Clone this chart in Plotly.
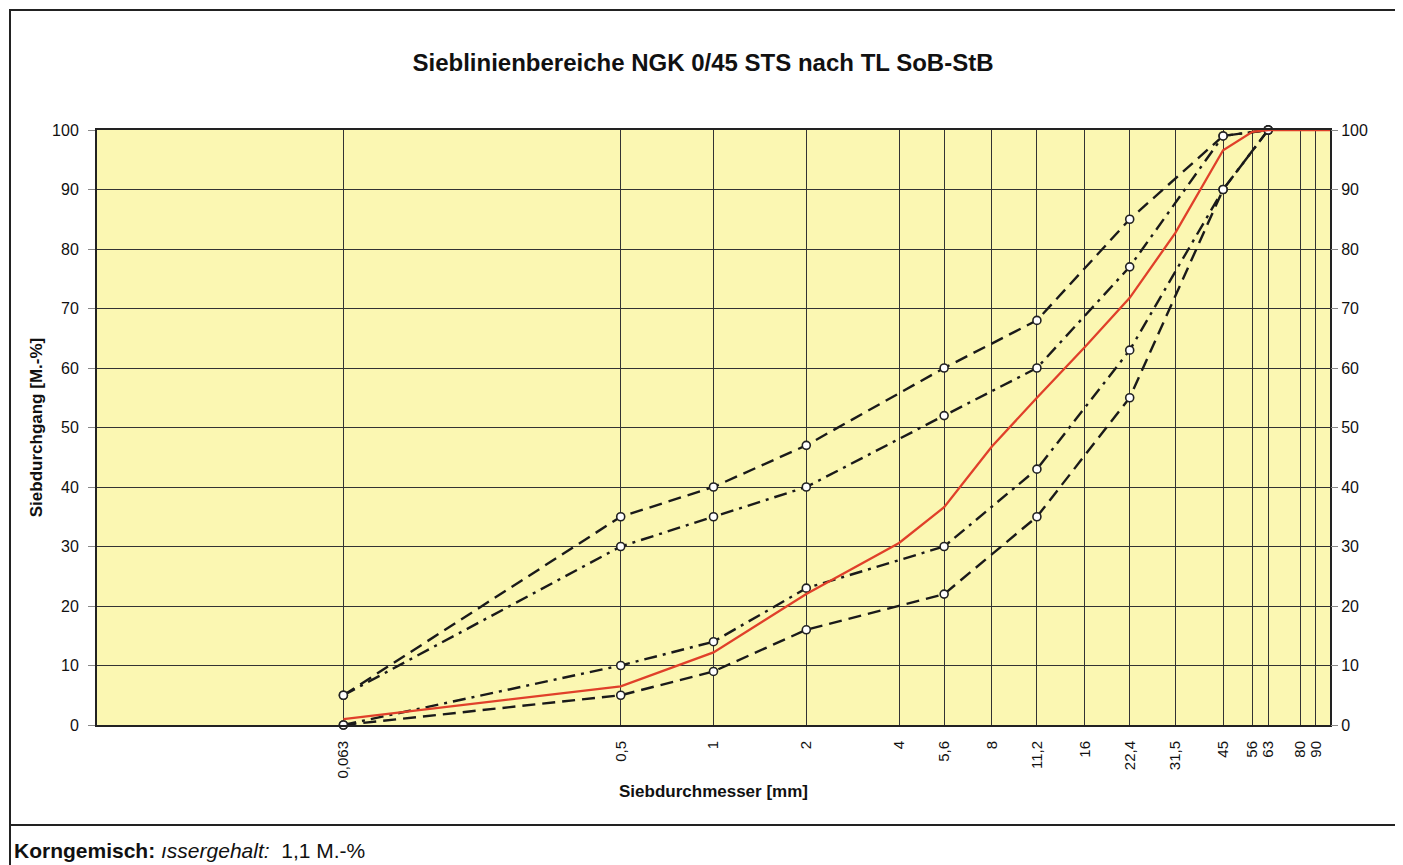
import plotly.graph_objects as go

# --- data ---
sieves = [0.063, 0.5, 1, 2, 5.6, 11.2, 22.4, 45, 63]
upper_outer = [5, 35, 40, 47, 60, 68, 85, 99, 100]
upper_inner = [5, 30, 35, 40, 52, 60, 77, 99, 100]
lower_inner = [0, 10, 14, 23, 30, 43, 63, 90, 100]
lower_outer = [0, 5, 9, 16, 22, 35, 55, 90, 100]

red_x = [0.063, 0.5, 1, 2, 4, 5.6, 8, 11.2, 16, 22.4, 31.5, 45, 56, 63, 100]
red_y = [1.0, 6.5, 12.2, 22, 30.6, 36.6, 46.8, 55, 63.5, 71.8, 82.7, 96.6, 99.7, 100, 100]

tick_vals = [0.063, 0.5, 1, 2, 4, 5.6, 8, 11.2, 16, 22.4, 31.5, 45, 56, 63, 80, 90]
tick_text = ["0,063", "0,5", "1", "2", "4", "5,6", "8", "11,2", "16", "22,4", "31,5", "45", "56", "63", "80", "90"]
y_ticks = list(range(0, 101, 10))

FONT = "Liberation Sans, Arial, sans-serif"
O = 8  # page body margin
W, H = 1403 - O, 865 - O
L, R, T, B = 97 - O, 1330 - O, 130 - O, 725 - O


def px(x):
    return (x - O - L) / (R - L)


def py(y):
    return (B - (y - O)) / (B - T)


fig = go.Figure()

marker = dict(symbol="circle", size=8, color="white", line=dict(color="#222", width=1.6))
dash_long = "13px,7px"
dash_dot = "13px,6px,3px,6px"

fig.add_trace(go.Scatter(x=sieves, y=upper_outer, mode="lines+markers",
                         line=dict(color="#1a1a1a", width=2.4, dash=dash_long),
                         marker=marker, cliponaxis=False, showlegend=False))
fig.add_trace(go.Scatter(x=sieves, y=lower_outer, mode="lines+markers",
                         line=dict(color="#1a1a1a", width=2.4, dash=dash_long),
                         marker=marker, cliponaxis=False, showlegend=False))
fig.add_trace(go.Scatter(x=sieves, y=upper_inner, mode="lines+markers",
                         line=dict(color="#1a1a1a", width=2.4, dash=dash_dot),
                         marker=marker, cliponaxis=False, showlegend=False))
fig.add_trace(go.Scatter(x=sieves, y=lower_inner, mode="lines+markers",
                         line=dict(color="#1a1a1a", width=2.4, dash=dash_dot),
                         marker=marker, cliponaxis=False, showlegend=False))
fig.add_trace(go.Scatter(x=red_x, y=red_y, mode="lines",
                         line=dict(color="#E0402A", width=2.3),
                         cliponaxis=False, showlegend=False))
# invisible trace for right axis
fig.add_trace(go.Scatter(x=[1], y=[0], yaxis="y2", mode="markers",
                         marker=dict(opacity=0), showlegend=False, hoverinfo="skip"))

fig.update_layout(
    width=W, height=H,
    paper_bgcolor="white",
    plot_bgcolor="#FBF7B2",
    margin=dict(l=L, r=W - R, t=T, b=H - B, pad=0),
    font=dict(family=FONT, size=15, color="#111"),
    title=dict(text="<b>Sieblinienbereiche NGK 0/45 STS nach TL SoB-StB</b>",
               x=(703 - O) / W, xanchor="center", y=1 - (63 - O) / H, yanchor="middle",
               font=dict(size=24, family=FONT, color="#111")),
    xaxis=dict(type="log", range=[-2, 2], tickvals=tick_vals, ticktext=tick_text,
               tickangle=-90, showgrid=True, gridcolor="#333", gridwidth=1,
               ticks="", zeroline=False, showline=True, linecolor="#222", linewidth=2,
               mirror=True, tickfont=dict(size=15), ticklabelstandoff=8,
               title=dict(text="<b>Siebdurchmesser [mm]</b>", font=dict(size=17), standoff=8)),
    yaxis=dict(range=[0, 100], tickvals=y_ticks, showgrid=True, gridcolor="#333", gridwidth=1,
               ticks="outside", ticklen=7, tickcolor="#888", zeroline=False,
               showline=True, linecolor="#222", linewidth=2, mirror=True,
               tickfont=dict(size=16), ticklabelstandoff=6,
               title=dict(text="<b>Siebdurchgang [M.-%]</b>", font=dict(size=17), standoff=5)),
    yaxis2=dict(range=[0, 100], tickvals=y_ticks, overlaying="y", side="right",
                showgrid=False, ticks="outside", ticklen=7, tickcolor="#888",
                zeroline=False, tickfont=dict(size=16)),
)

# outer frame and bottom separator
fig.add_shape(type="rect", xref="paper", yref="paper",
              x0=px(10), x1=px(1396), y0=py(880), y1=py(10),
              line=dict(color="#222", width=2), layer="below")
fig.add_shape(type="line", xref="paper", yref="paper",
              x0=px(10), x1=px(1396), y0=py(825), y1=py(825),
              line=dict(color="#222", width=2))

fig.add_annotation(xref="paper", yref="paper", x=px(12), y=py(850),
                   xanchor="left", yanchor="middle", showarrow=False,
                   text="<b>Korngemisch:</b> <i>ıssergehalt:</i>  1,1 M.-%",
                   font=dict(size=21, family=FONT, color="#111"))

fig.write_html("out.html")
